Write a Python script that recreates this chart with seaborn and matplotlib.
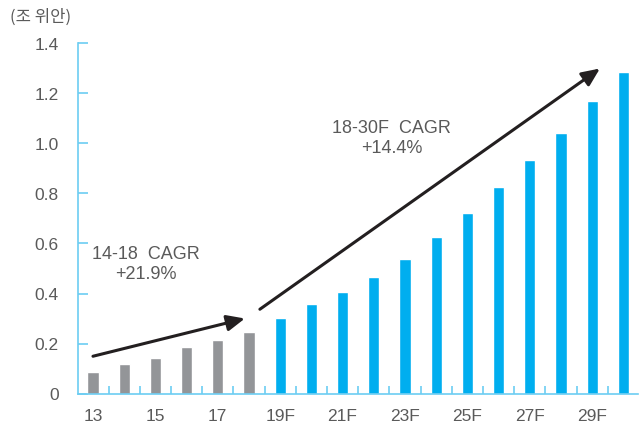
import matplotlib
matplotlib.use("Agg")
import matplotlib.pyplot as plt
from matplotlib.ticker import FixedLocator, NullFormatter
import seaborn as sns
import pandas as pd

years = ["13", "14", "15", "16", "17", "18", "19F", "20F", "21F", "22F", "23F",
         "24F", "25F", "26F", "27F", "28F", "29F", "30F"]
market = [0.086, 0.118, 0.141, 0.185, 0.213, 0.245, 0.301, 0.357, 0.408, 0.468,
          0.540, 0.627, 0.723, 0.827, 0.934, 1.042, 1.169, 1.285]
tick_labels = ["13", "15", "17", "19F", "21F", "23F", "25F", "27F", "29F"]
y_ticks = [0, 0.2, 0.4, 0.6, 0.8, 1.0, 1.2, 1.4]
y_tick_labels = ["0", "0.2", "0.4", "0.6", "0.8", "1.0", "1.2", "1.4"]
unit_label = "(조 위안)"
cagr_hist = ["14-18  CAGR", "+21.9%"]
cagr_fcst = ["18-30F  CAGR", "+14.4%"]

GRAY = "#939598"
BLUE = "#00AEEF"
AXIS = "#6CCDF2"
TEXT = "#5A5A5A"
ARROW = "#231F20"

sns.set_theme(style="white")
plt.rcParams["font.family"] = ["Liberation Sans", "DejaVu Sans"]

df = pd.DataFrame({"year": years, "value": market})
palette = {y: (GRAY if not y.endswith("F") else BLUE) for y in years}

fig = plt.figure(figsize=(6.44, 4.23), dpi=100)
ax = fig.add_axes([78 / 644, 29.5 / 423, 560 / 644, 350 / 423])

sns.barplot(data=df, x="year", y="value", hue="year", palette=palette,
            order=years, hue_order=years, legend=False, width=0.36,
            saturation=1, ax=ax)

ax.set_xlim(-0.48, 17.47)
ax.set_ylim(0, 1.4)
ax.set_xlabel("")
ax.set_ylabel("")

for side in ["top", "right"]:
    ax.spines[side].set_visible(False)
for side in ["left", "bottom"]:
    ax.spines[side].set_color(AXIS)
    ax.spines[side].set_linewidth(1.2)

ax.set_yticks(y_ticks)
ax.set_yticklabels(y_tick_labels)
ax.tick_params(axis="y", direction="in", length=7, width=1.2, color=AXIS,
               labelsize=12.5, labelcolor=TEXT, pad=14, left=True)

tick_pos = [years.index(t) for t in tick_labels]
ax.xaxis.set_major_locator(FixedLocator(tick_pos))
ax.set_xticklabels(tick_labels)
ax.xaxis.set_minor_locator(FixedLocator([k - 0.5 for k in range(19)]))
ax.xaxis.set_minor_formatter(NullFormatter())
ax.tick_params(axis="x", which="major", length=0, labelsize=12.5,
               labelcolor=TEXT, pad=11, bottom=True)
ax.tick_params(axis="x", which="minor", direction="in", length=6, width=1.2,
               color=AXIS, bottom=True)

fig.text(10 / 644, 1 - 17 / 423, unit_label, fontsize=12, color=TEXT,
         family=["Noto Sans CJK KR", "DejaVu Sans"], va="center", ha="left")

arrow_style = dict(arrowstyle="-|>,head_length=0.9,head_width=0.4",
                   color=ARROW, lw=2.2, shrinkA=0, shrinkB=0)
ax.annotate("", xy=(4.87, 0.30), xytext=(0.0, 0.149),
            arrowprops=arrow_style, annotation_clip=False)
ax.annotate("", xy=(16.25, 1.30), xytext=(5.35, 0.337),
            arrowprops=arrow_style, annotation_clip=False)

ax.text(1.7, 0.515, "\n".join(cagr_hist), ha="center", va="center",
        fontsize=13, color=TEXT, linespacing=1.25)
ax.text(9.58, 1.02, "\n".join(cagr_fcst), ha="center", va="center",
        fontsize=13, color=TEXT, linespacing=1.25)

fig.savefig("out.png", dpi=100, facecolor="white")
